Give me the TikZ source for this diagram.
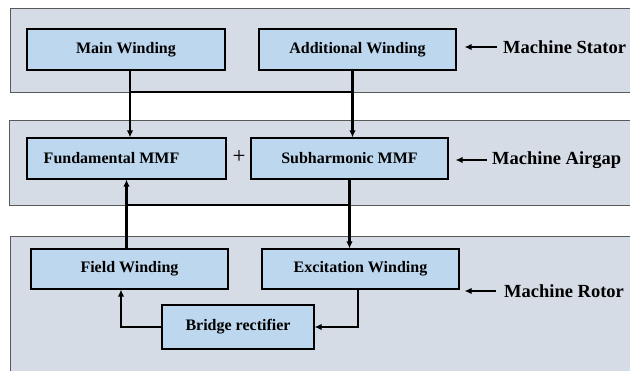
\documentclass[tikz,border=0pt]{standalone}
\usepackage{fontspec}
\setmainfont{Liberation Serif}
\usetikzlibrary{arrows.meta}

\definecolor{panelfill}{HTML}{D6DCE5}
\definecolor{boxfill}{HTML}{BDD7EE}

\tikzset{
    panel/.style={draw=black!65, line width=0.8pt, fill=panelfill},
    block/.style={draw=black, line width=1.2pt, fill=boxfill, minimum height=41pt,
        inner sep=0pt, font=\fontsize{16}{18}\selectfont\bfseries},
    tag/.style={inner sep=0pt, anchor=west, font=\fontsize{18.5}{20}\selectfont\bfseries},
    wire/.style={line width=2.2pt},
    feed/.style={wire, -{Latex[length=7pt,width=6.5pt]}}
}

\begin{document}
\begin{tikzpicture}[x=1pt,y=-1pt]

    \useasboundingbox (0,0) rectangle (630,371);

    % Pannelli
    \draw[panel] (10,8) rectangle (631,92);
    \draw[panel] (9,120) rectangle (631,205);
    \draw[panel] (10,236) rectangle (631,373);

    % Blocchi
    \node[block, minimum width=198pt] (main) at (126,49.5) {Main Winding};
    \node[block, minimum width=197pt] (addl) at (357.5,49.5) {Additional Winding};

    \node[block, minimum width=199pt] (fund) at (126.5,158.5) {\hspace*{-30pt}Fundamental MMF};
    \node[block, minimum width=197pt] (subh) at (349.5,158.5) {Subharmonic MMF};
    \node[font=\fontsize{23}{24}\selectfont] (plus) at (239,157.5) {+};

    \node[block, minimum width=197pt, minimum height=40pt] (field) at (129.5,269) {Field Winding};
    \node[block, minimum width=197pt, minimum height=40pt] (excit) at (360.5,269) {Excitation Winding};
    \node[block, minimum width=152pt, minimum height=44pt] (bridge) at (238,327) {Bridge rectifier};

    % Etichette
    \node[tag] (stator) at (503,47) {Machine Stator};
    \node[tag] (airgap) at (492,160) {Machine Airgap};
    \node[tag] (rotor) at (504,291) {Machine Rotor};

    % Bus
    \coordinate (sbus) at (0,92);
    \coordinate (rbus) at (0,205);

    % Collegamenti statore
    \draw[wire] ([xshift=4pt]main.south) -- ([xshift=4pt]main.south |- sbus)
        -- ([xshift=-5pt]addl.south |- sbus) -- ([xshift=-5pt]addl.south);
    \draw[feed] ([xshift=4pt]main.south |- sbus) -- ([xshift=4pt]main.south |- fund.north);
    \draw[feed] ([xshift=-5pt]addl.south |- sbus) -- ([xshift=-5pt]addl.south |- subh.north);

    % Collegamenti traferro
    \draw[feed] (fund.south |- field.north) -- (fund.south);
    \draw[wire] (fund.south |- rbus) -- (subh.south |- rbus);
    \draw[feed] (subh.south) -- (subh.south |- excit.north);

    % Collegamenti rotore
    \draw[feed] ([xshift=-2.5pt]excit.south) |- (bridge.east);
    \draw[feed] (bridge.west) -| ([xshift=-8.5pt]field.south);

    % Frecce etichette
    \draw[feed, shorten <=6pt, shorten >=8pt] (stator.west) -- (stator.west -| addl.east);
    \draw[feed, shorten <=5pt, shorten >=7pt] (airgap.west) -- (airgap.west -| subh.east);
    \draw[feed, shorten <=8pt, shorten >=5pt] (rotor.west) -- (rotor.west -| excit.east);

\end{tikzpicture}
\end{document}
